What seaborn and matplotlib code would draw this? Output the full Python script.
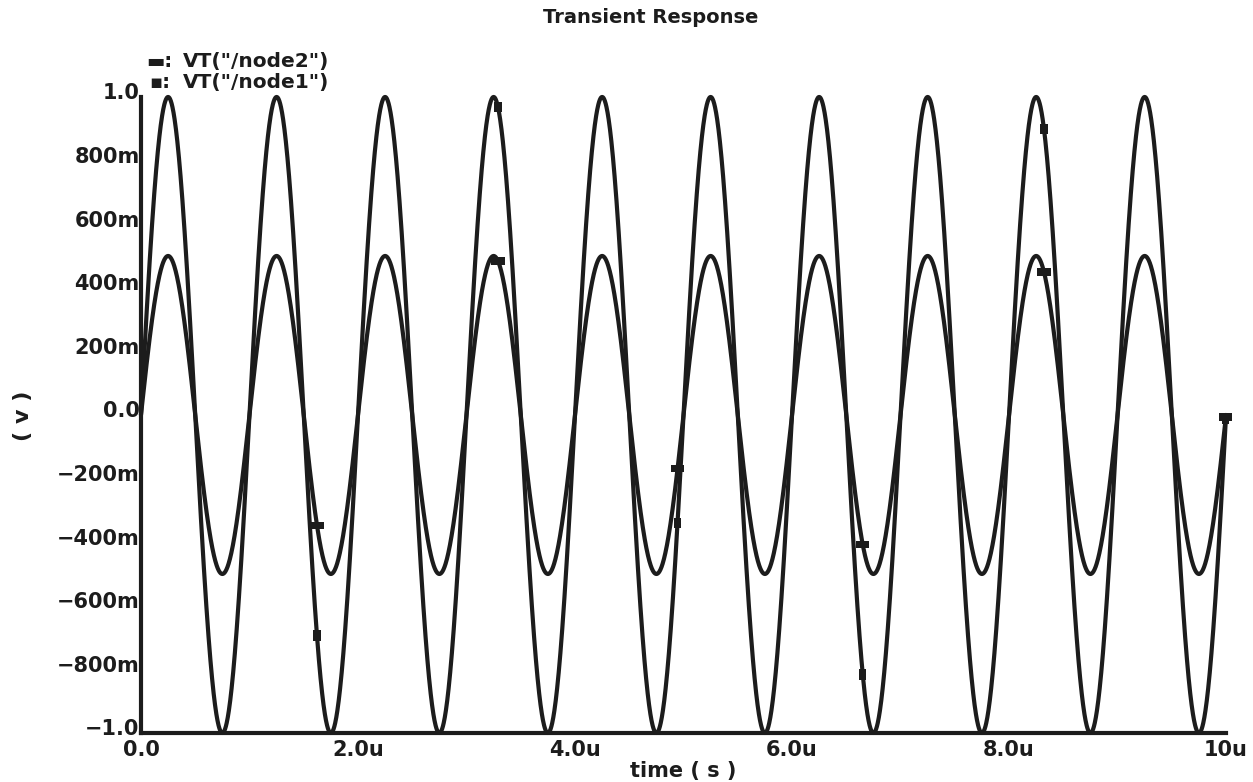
"""Transient Response chart: two sine node voltages, Cadence style."""

import matplotlib

matplotlib.use("Agg")
import matplotlib.pyplot as plt
import numpy as np
import pandas as pd
import seaborn as sns
from matplotlib.ticker import AutoMinorLocator, FixedLocator
from matplotlib.transforms import ScaledTranslation


# Source settings (time in microseconds, volts)
NODES = ["node1", "node2"]
AMPLITUDES = [1.0, 0.5]
PERIOD_US = 1.0
STOP_TIME_US = 10.0

# Times where the simulator drew its curve markers
MARKER_TIMES_US = [1.622, 3.29, 4.945, 6.652, 8.322, 9.998]

X_TICKS = [0, 2, 4, 6, 8, 10]
X_TICK_LABELS = ["0.0", "2.0u", "4.0u", "6.0u", "8.0u", "10u"]
Y_TICKS = [1.0, 0.8, 0.6, 0.4, 0.2, 0.0, -0.2, -0.4, -0.6, -0.8, -1.0]
Y_TICK_LABELS = ["1.0", "800m", "600m", "400m", "200m", "0.0",
                 "\u2212200m", "\u2212400m", "\u2212600m", "\u2212800m", "\u22121.0"]

INK = "#1c1c1c"

# marker shapes: node1 small upright block, node2 flat dash
NODE1_MARK = [(-0.35, -0.5), (0.35, -0.5), (0.35, 0.5), (-0.35, 0.5)]
NODE2_MARK = [(-0.5, -0.27), (0.5, -0.27), (0.5, 0.27), (-0.5, 0.27)]


def node_voltage(amplitude, t_us):
    return amplitude * np.sin(2 * np.pi * np.asarray(t_us) / PERIOD_US)


def build_frames():
    t = np.linspace(0, STOP_TIME_US, 4001)
    curves, marks = [], []
    for node, amp in zip(NODES, AMPLITUDES):
        curves.append(pd.DataFrame({"time": t, "volt": node_voltage(amp, t), "node": node}))
        marks.append(pd.DataFrame({"time": MARKER_TIMES_US,
                                   "volt": node_voltage(amp, MARKER_TIMES_US),
                                   "node": node}))
    return pd.concat(curves, ignore_index=True), pd.concat(marks, ignore_index=True)


def main():
    sns.set_theme(style="white")
    plt.rcParams["font.family"] = ["DejaVu Sans"]
    plt.rcParams["font.weight"] = "bold"

    curve_df, mark_df = build_frames()

    fig = plt.figure(figsize=(12.53, 7.82), dpi=100)
    ax = fig.add_axes([0.1125, 0.0627, 0.866, 0.8133])

    sns.lineplot(data=curve_df, x="time", y="volt", hue="node",
                 palette={n: INK for n in NODES}, linewidth=3.0,
                 legend=False, ax=ax, clip_on=False)

    sns.scatterplot(data=mark_df[mark_df["node"] == "node1"], x="time", y="volt",
                    marker=NODE1_MARK, s=55, color=INK, edgecolor="none",
                    legend=False, ax=ax, clip_on=False, zorder=5)
    sns.scatterplot(data=mark_df[mark_df["node"] == "node2"], x="time", y="volt",
                    marker=NODE2_MARK, s=90, color=INK, edgecolor="none",
                    legend=False, ax=ax, clip_on=False, zorder=5)

    ax.set_xlim(0, STOP_TIME_US)
    ax.set_ylim(-1.0, 1.0)

    for side in ["top", "right"]:
        ax.spines[side].set_visible(False)
    for side in ["left", "bottom"]:
        ax.spines[side].set_linewidth(3.0)
        ax.spines[side].set_color(INK)

    ax.xaxis.set_major_locator(FixedLocator(X_TICKS))
    ax.set_xticklabels(X_TICK_LABELS)
    ax.yaxis.set_major_locator(FixedLocator(Y_TICKS))
    ax.set_yticklabels(Y_TICK_LABELS)
    ax.xaxis.set_minor_locator(AutoMinorLocator(10))
    ax.yaxis.set_minor_locator(AutoMinorLocator(5))

    ax.tick_params(which="major", direction="in", length=6, width=2.5,
                   color=INK, labelcolor=INK, labelsize=15)
    ax.tick_params(which="minor", direction="in", length=3, width=2.5, color=INK)
    ax.tick_params(axis="x", which="major", pad=5)
    ax.tick_params(axis="y", which="major", pad=1)
    lift = ScaledTranslation(0, 4 / 72, fig.dpi_scale_trans)
    for lab in ax.get_yticklabels():
        lab.set_fontweight("bold")
        lab.set_transform(lab.get_transform() + lift)
    for lab in ax.get_xticklabels():
        lab.set_fontweight("bold")

    ax.set_xlabel("")
    ax.set_ylabel("")
    fig.text(0.545, 0.014, "time ( s )", ha="center", va="center",
             fontsize=15, fontweight="bold", color=INK)
    fig.text(0.018, 0.468, "( v )", ha="center", va="center", rotation=90,
             fontsize=16, fontweight="bold", color=INK)
    fig.text(0.519, 0.977, "Transient Response", ha="center", va="center",
             fontsize=14, fontweight="bold", color=INK)

    # legend drawn as text lines above the plot
    fig.text(0.117, 0.921, "\u25ac:", ha="left", va="center",
             fontsize=14, fontweight="bold", color=INK)
    fig.text(0.146, 0.921, 'VT("/node2")', ha="left", va="center",
             fontsize=14.5, fontweight="bold", color=INK)
    fig.text(0.119, 0.894, "\u25aa:", ha="left", va="center",
             fontsize=14, fontweight="bold", color=INK)
    fig.text(0.146, 0.894, 'VT("/node1")', ha="left", va="center",
             fontsize=14.5, fontweight="bold", color=INK)

    fig.savefig("out.png", dpi=100, facecolor="white")
    plt.close(fig)


if __name__ == "__main__":
    main()
